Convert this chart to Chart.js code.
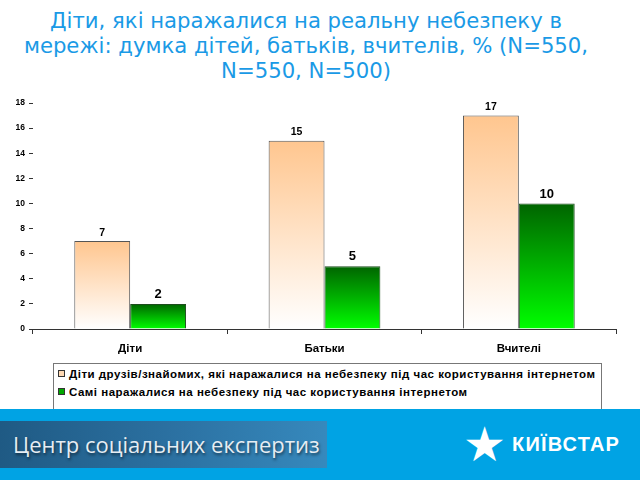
<!DOCTYPE html>
<html>
<head>
<meta charset="utf-8">
<script src="https://cdn.jsdelivr.net/npm/chart.js@4.4.1/dist/chart.umd.min.js"></script>
<style>
  html, body { margin: 0; padding: 0; background: #fff; }
  body { width: 640px; height: 480px; position: relative; overflow: hidden; font-family: "Liberation Sans", Arial, sans-serif; }
  #title { position: absolute; left: 0; top: 8px; width: 612px; text-align: center; font-family: "DejaVu Sans", sans-serif; font-size: 21.2px; line-height: 25px; color: #1a9ae6; }
  #wrap { position: absolute; left: 0; top: 0; width: 640px; height: 365px; }
  #legend { position: absolute; left: 53px; top: 363px; width: 547px; height: 60px; border: 1px solid #777; background: #fff; }
  .item { position: absolute; left: 4px; font-size: 11.5px; letter-spacing: 0.5px; font-weight: bold; color: #000; white-space: nowrap; line-height: 13px; }
  .item i { display: inline-block; width: 5px; height: 5px; border: 1px solid #333; margin-right: 4px; vertical-align: 1px; }
  #banner { position: absolute; left: 0; top: 409px; width: 640px; height: 71px; background: #00a3e4; z-index: 2; }
  #cse { position: absolute; left: 0; top: 12px; width: 327px; height: 47px; background: linear-gradient(90deg, #1f5a84 0%, #2c72a3 55%, #3689bd 100%); }
  #cse span { position: absolute; left: 13px; top: 8px; font-family: "Open Sans", sans-serif; font-size: 22px; color: #e6edf3; text-shadow: 1px 2px 3px rgba(0,0,0,0.55); white-space: nowrap; }
  #star { position: absolute; left: 463px; top: 11px; font-size: 48px; line-height: 50px; color: #fff; }
  #kname { position: absolute; left: 512px; top: 24px; font-family: "Liberation Sans", Arial, sans-serif; font-weight: bold; font-size: 20px; letter-spacing: 1.2px; color: #fff; white-space: nowrap; }
</style>
</head>
<body>
<div id="title">Діти, які наражалися на реальну небезпеку в<br>мережі: думка дітей, батьків, вчителів, % (N=550,<br>N=550, N=500)</div>
<div id="wrap"><canvas id="chart"></canvas></div>
<div id="legend"></div>
<div id="banner">
  <div id="cse"><span>Центр соціальних експертиз</span></div>
  <div id="star">★</div>
  <div id="kname">КИЇВСТАР</div>
</div>
<script>
const categories = ['Діти', 'Батьки', 'Вчителі'];
const seriesNames = [
    'Діти друзів/знайомих, які наражалися на небезпеку під час користування інтернетом',
    'Самі наражалися на небезпеку під час користування інтернетом'
];
const friendsValues = [7, 15, 17];
const selfValues = [2, 5, 10];
const yMax = 18;
const yStep = 2;

const legendSwatches = ['#ffd9b3', '#00a800'];

function barGradient(context, topColor, bottomColor) {
    const chart = context.chart;
    const y = chart.scales.y;
    if (!chart.chartArea || !y) return topColor;
    const g = chart.ctx.createLinearGradient(0, y.getPixelForValue(context.raw), 0, y.getPixelForValue(0));
    g.addColorStop(0, topColor);
    g.addColorStop(1, bottomColor);
    return g;
}

const valueLabels = {
    id: 'valueLabels',
    afterDatasetsDraw(chart) {
        const c = chart.ctx;
        chart.data.datasets.forEach((ds, i) => {
            chart.getDatasetMeta(i).data.forEach((bar, j) => {
                c.save();
                c.font = i === 0 ? 'bold 10.5px "Liberation Sans", Arial' : 'bold 13px "Liberation Sans", Arial';
                c.fillStyle = '#000';
                c.textAlign = 'center';
                c.textBaseline = 'bottom';
                c.fillText(ds.data[j], bar.x, bar.y - 3);
                c.restore();
            });
        });
    }
};

new Chart(document.getElementById('chart').getContext('2d'), {
    type: 'bar',
    data: {
        labels: categories,
        datasets: [{
            label: seriesNames[0],
            data: friendsValues,
            backgroundColor: ctx => barGradient(ctx, '#ffc68f', '#ffffff'),
            borderColor: '#555555',
            borderWidth: 1,
            barPercentage: 1,
            categoryPercentage: 0.575
        }, {
            label: seriesNames[1],
            data: selfValues,
            backgroundColor: ctx => barGradient(ctx, '#006400', '#00ff00'),
            borderColor: '#1d4d1d',
            borderWidth: 1,
            barPercentage: 1,
            categoryPercentage: 0.575
        }]
    },
    options: {
        responsive: true,
        maintainAspectRatio: false,
        animation: false,
        events: [],
        layout: { padding: { left: 8, right: 24, top: 103, bottom: 0 } },
        plugins: {
            legend: { display: false },
            title: { display: false },
            tooltip: { enabled: false }
        },
        scales: {
            x: {
                afterFit: s => { s.height = 36; },
                grid: { drawOnChartArea: false, offset: true, tickLength: 5, color: '#333' },
                border: { display: true, color: '#333' },
                ticks: { padding: 8, color: '#000', font: { family: '"Liberation Sans", Arial', size: 11.5, weight: 'bold' } }
            },
            y: {
                min: 0,
                max: yMax,
                afterFit: s => { s.width = 25; },
                grid: { drawOnChartArea: false, tickLength: 4, color: '#333' },
                border: { display: false },
                ticks: { stepSize: yStep, padding: 4, color: '#000', font: { family: '"Liberation Sans", Arial', size: 8.5, weight: 'bold' } }
            }
        }
    },
    plugins: [valueLabels]
});

const legendBox = document.getElementById('legend');
seriesNames.forEach((name, i) => {
    const row = document.createElement('div');
    row.className = 'item';
    row.style.top = (4 + i * 18) + 'px';
    row.innerHTML = `<i style="background:${legendSwatches[i]}"></i>${name}`;
    legendBox.appendChild(row);
});
</script>
</body>
</html>
